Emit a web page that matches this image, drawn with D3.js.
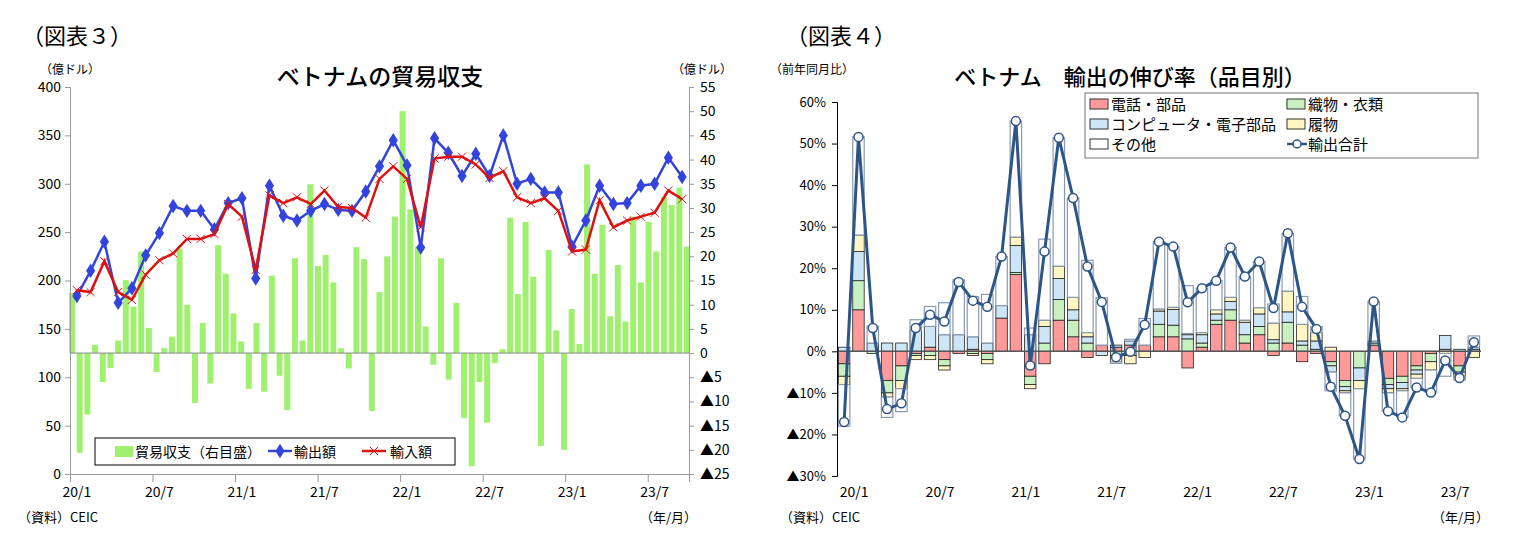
<!DOCTYPE html>
<html><head><meta charset="utf-8">
<script src="https://cdn.jsdelivr.net/npm/d3@7"></script>
<style>body{margin:0;background:#fff}text{font-family:"Noto Sans CJK JP",sans-serif}</style>
</head><body><svg width="1513" height="551"></svg>
<script>
// ---- data: chart 3
let exports3 = [184,210,240,177,192,226,249,277,272,272,253,280,285,202,298,267,262,272,279,273,272,292,318,345,319,234,347,332,308,331,308,350,300,305,291,291,235,262,298,279,280,298,300,327,307];
let imports3 = [190,188,220,188,180,206,221,228,243,243,248,279,266,211,288,280,286,279,293,276,275,265,305,318,305,255,326,328,328,320,306,313,286,280,285,272,230,232,283,255,262,266,270,293,284];
let balance3 = [12.4,-20.6,-12.7,1.7,-6,-3.1,2.6,15.1,9.6,21,5.2,-3.9,1,3.4,21.6,10,-10.3,6.2,-6.3,22.3,16.4,8.2,2.4,-7.4,6.2,-8,16,-4.7,-11.8,19.6,2.6,34.9,18,20.3,14.6,1,-3.2,21.9,19.4,-12,12.6,20,
  28.2,50,29.7,22,5.5,-2.4,19.6,-5.5,10.4,-13.4,-23.4,-6,-14.4,-2.1,0.8,28,12.2,27.1,15.8,-19.2,21.3,4.7,-20,9.1,1.9,39,16.4,26.5,7.6,18.2,6.5,28.2,14.6,27.1,21,32.3,30.6,34.2,22];
let leftTicks = [0,50,100,150,200,250,300,350,400];
let rightTicks = [-25,-20,-15,-10,-5,0,5,10,15,20,25,30,35,40,45,50,55];
let xLabels = ["20/1","20/7","21/1","21/7","22/1","22/7","23/1","23/7"];

// ---- data: chart 4
let total4 = [-17,51.6,5.6,-13.9,-12.5,5.6,8.8,7.2,16.7,12.2,10.7,22.8,55.4,-3.4,24,51.4,36.9,20.4,11.9,-1.4,-0.1,6.4,26.4,25.2,11.8,15.2,17,25,18,21.6,10.4,28.4,10.7,5.4,-8.5,-15.5,-25.9,12,-14.4,-15.9,-8.7,-9.9,-2.2,-6.4,2.2];
let phone4 = [-3,10,0,-7,-3.5,-0.5,1,-2,-0.5,0.5,-0.5,8,18.5,-6,-3,7.5,3.5,-1.5,1.5,1,1.5,1.5,3.5,3.5,-4,1,6.5,7.5,2,4,-1,2,-2.5,-0.5,-2.5,-7,0,1.5,-6.5,-6,-3.5,-0.5,0,-3.5,0];
let textile4 = [-3,7,-0.5,-3,-3.5,-0.5,-1,-1.5,0,-0.5,-1.5,0,0.5,-2,2,5,4,2,0,-1,-1,0,3,2.8,3,1,1,2.5,2,2,2,5,1.5,0.5,-1,-1.5,-4,0.5,-1.5,-1.5,-1,-2,0.5,-1.5,0.5];
let computer4 = [1,7,2,2,2,5,5,4,4,3,2,3,6.5,4,4,5,2.5,1.5,-1,0.5,1,0,3.2,3.8,1,2,1.5,2,3,3,0.8,2.5,1,2,-1.5,-1,-3,0.5,-1,-1.5,-1,0,3.3,0.5,0.5];
let footwear4 = [-2,4,0,-1,-2,-1,-1,-1,0,-0.5,-1,0,2,-1,1.5,3,3,1,0,-1.5,-2,-1.5,0.5,0.5,0.3,0.5,1,1,0.5,1.5,4,5,4,2,1,-0.5,-2,0,-1,-0.5,-1,-2,-0.5,-1,-1.5];
let yTicks4 = [-30,-20,-10,0,10,20,30,40,50,60];
let seriesNames4 = ["電話・部品","織物・衣類","コンピュータ・電子部品","履物","その他"];
let seriesColors4 = ["#ff9a9a","#c8f0c0","#cce6f8","#fff6c4","#ffffff"];

let svg = d3.select("svg");
let ymLabel = v => v < 0 ? "▲" + (-v) : "" + v;

// ================= chart 3 =================
let x3 = d3.scaleLinear().domain([0,45]).range([70,689]);
let yL = d3.scaleLinear().domain([0,400]).range([474,87]);
let yR = d3.scaleLinear().domain([-25,55]).range([474,87]);
let xb = d3.scaleBand().domain(d3.range(balance3.length)).range([69,690]).paddingInner(0.22);

svg.append("text").attr("x",22).attr("y",44).attr("font-size",22).text("（図表３）");
svg.append("text").attr("x",380).attr("y",85).attr("font-size",23).attr("font-weight",500).attr("text-anchor","middle").text("ベトナムの貿易収支");
svg.append("text").attr("x",40).attr("y",74).attr("font-size",12).text("（億ドル）");
svg.append("text").attr("x",672).attr("y",74).attr("font-size",12).text("（億ドル）");

svg.append("g").selectAll("rect").data(balance3).join("rect")
  .attr("x",(d,i)=>xb(i)).attr("width",xb.bandwidth())
  .attr("y",d=>yR(Math.max(0,d))).attr("height",d=>Math.abs(yR(d)-yR(0)))
  .attr("fill","#a0f070");
svg.append("line").attr("x1",70).attr("x2",689).attr("y1",yR(0)).attr("y2",yR(0)).attr("stroke","#888");

let gL = svg.append("g").attr("transform","translate(70,0)")
  .call(d3.axisLeft(yL).tickValues(leftTicks).tickSize(5).tickPadding(4));
let gR = svg.append("g").attr("transform","translate(689,0)")
  .call(d3.axisRight(yR).tickValues(rightTicks).tickSize(5).tickPadding(6).tickFormat(ymLabel));
let gB = svg.append("g").attr("transform","translate(0,474)")
  .call(d3.axisBottom(x3).tickValues(d3.range(0,46,6)).tickSize(8).tickFormat(""));
[gL,gR,gB].forEach(g=>{g.selectAll("path,line").attr("stroke","#999");g.selectAll("text").attr("font-size",14).attr("fill","#000");});
svg.append("g").selectAll("text").data(xLabels).join("text")
  .attr("x",(d,i)=>x3(i*6+0.5)).attr("y",497).attr("text-anchor","middle").attr("font-size",14).text(d=>d);

let line3 = (arr)=>d3.line().x((d,i)=>x3(i+0.5)).y(d=>yL(d))(arr);
svg.append("path").attr("d",line3(exports3)).attr("fill","none").attr("stroke","#3344dd").attr("stroke-width",2.5);
svg.append("g").selectAll("path").data(exports3).join("path")
  .attr("d",d3.symbol(d3.symbolDiamond,60)).attr("fill","#3344dd")
  .attr("transform",(d,i)=>`translate(${x3(i+0.5)},${yL(d)}) scale(1.1,1)`);
svg.append("path").attr("d",line3(imports3)).attr("fill","none").attr("stroke","#dd1111").attr("stroke-width",2.5);
svg.append("g").selectAll("path").data(imports3).join("path")
  .attr("d",d3.symbol(d3.symbolX,45)).attr("stroke","#dd1111").attr("stroke-width",1)
  .attr("transform",(d,i)=>`translate(${x3(i+0.5)},${yL(d)})`);

let lg3 = svg.append("g");
lg3.append("rect").attr("x",95).attr("y",438).attr("width",360).attr("height",27).attr("fill","#fff").attr("stroke","#000");
lg3.append("rect").attr("x",115).attr("y",446).attr("width",18).attr("height",11).attr("fill","#a0f070");
lg3.append("text").attr("x",135).attr("y",457).attr("font-size",14).text("貿易収支（右目盛）");
lg3.append("line").attr("x1",268).attr("x2",292).attr("y1",451).attr("y2",451).attr("stroke","#3344dd").attr("stroke-width",2.5);
lg3.append("path").attr("d",d3.symbol(d3.symbolDiamond,60)).attr("fill","#3344dd").attr("transform","translate(280,451) scale(1.1,1)");
lg3.append("text").attr("x",294).attr("y",457).attr("font-size",14).text("輸出額");
lg3.append("line").attr("x1",362).attr("x2",386).attr("y1",451).attr("y2",451).attr("stroke","#dd1111").attr("stroke-width",2.5);
lg3.append("path").attr("d",d3.symbol(d3.symbolX,45)).attr("stroke","#dd1111").attr("transform","translate(374,451)");
lg3.append("text").attr("x",390).attr("y",457).attr("font-size",14).text("輸入額");

svg.append("text").attr("x",18).attr("y",522).attr("font-size",13).text("（資料）CEIC");
svg.append("text").attr("x",640).attr("y",522).attr("font-size",13).text("（年/月）");

// ================= chart 4 =================
let x4 = d3.scaleBand().domain(d3.range(45)).range([837,1481]).paddingInner(0.2).paddingOuter(0.1);
let y4 = d3.scaleLinear().domain([-30,60]).range([476,102]);

svg.append("text").attr("x",786).attr("y",44).attr("font-size",22).text("（図表４）");
svg.append("text").attr("x",1130).attr("y",85).attr("font-size",22).attr("font-weight",500).attr("text-anchor","middle").text("ベトナム　輸出の伸び率（品目別）");
svg.append("text").attr("x",770).attr("y",74).attr("font-size",12).text("（前年同月比）");

let comps = [phone4,textile4,computer4,footwear4,total4.map((t,i)=>t-phone4[i]-textile4[i]-computer4[i]-footwear4[i])];
let segs = [];
total4.forEach((t,i)=>{
  let pos=0, neg=0;
  comps.forEach((c,k)=>{
    let v=c[i];
    if(v>=0){segs.push({i,k,y0:pos,y1:pos+v});pos+=v;}
    else{segs.push({i,k,y0:neg+v,y1:neg});neg+=v;}
  });
});
svg.append("g").selectAll("rect").data(segs).join("rect")
  .attr("x",d=>x4(d.i)).attr("width",x4.bandwidth())
  .attr("y",d=>y4(d.y1)).attr("height",d=>y4(d.y0)-y4(d.y1))
  .attr("fill",d=>seriesColors4[d.k])
  .attr("stroke",d=>d.k==4?"#8a9ab0":"#222").attr("stroke-width",d=>d.k==4?1.2:0.8);

svg.append("line").attr("x1",837).attr("x2",1481).attr("y1",y4(0)).attr("y2",y4(0)).attr("stroke","#555").attr("stroke-width",1.5);
let g4 = svg.append("g").attr("transform","translate(837,0)")
  .call(d3.axisLeft(y4).tickValues(yTicks4).tickSize(5).tickPadding(6).tickFormat(v=>ymLabel(v)+"%"));
g4.selectAll("path,line").attr("stroke","#000");
g4.selectAll("text").attr("font-size",13).attr("fill","#000");
svg.append("g").selectAll("text").data(xLabels).join("text")
  .attr("x",(d,i)=>x4(i*6)+x4.bandwidth()/2+10).attr("y",497).attr("text-anchor","middle").attr("font-size",14).text(d=>d);

let cx = i=>x4(i)+x4.bandwidth()/2;
svg.append("path").attr("d",d3.line().x((d,i)=>cx(i)).y(d=>y4(d))(total4))
  .attr("fill","none").attr("stroke","#2d5586").attr("stroke-width",3);
svg.append("g").selectAll("circle").data(total4).join("circle")
  .attr("cx",(d,i)=>cx(i)).attr("cy",d=>y4(d)).attr("r",4.5)
  .attr("fill","#fff").attr("stroke","#2d5586").attr("stroke-width",1.5);

let lg4 = svg.append("g");
lg4.append("rect").attr("x",1085).attr("y",93).attr("width",393).attr("height",65).attr("fill","#fff").attr("stroke","#777");
let legItems = [[0,0,0],[1,1,0],[2,0,1],[3,1,1],[4,0,2]];
legItems.forEach(([k,col,row])=>{
  let lx = col?1287:1090, ly = 104+row*20;
  lg4.append("rect").attr("x",lx).attr("y",ly-5).attr("width",18).attr("height",10).attr("fill",seriesColors4[k]).attr("stroke","#333");
  lg4.append("text").attr("x",lx+21).attr("y",ly+6).attr("font-size",15).text(seriesNames4[k]);
});
lg4.append("line").attr("x1",1287).attr("x2",1307).attr("y1",144).attr("y2",144).attr("stroke","#2d5586").attr("stroke-width",2.5);
lg4.append("circle").attr("cx",1297).attr("cy",144).attr("r",4).attr("fill","#fff").attr("stroke","#2d5586").attr("stroke-width",1.5);
lg4.append("text").attr("x",1308).attr("y",150).attr("font-size",15).text("輸出合計");

svg.append("text").attr("x",780).attr("y",522).attr("font-size",13).text("（資料）CEIC");
svg.append("text").attr("x",1432).attr("y",522).attr("font-size",13).text("（年/月）");
</script></body></html>
